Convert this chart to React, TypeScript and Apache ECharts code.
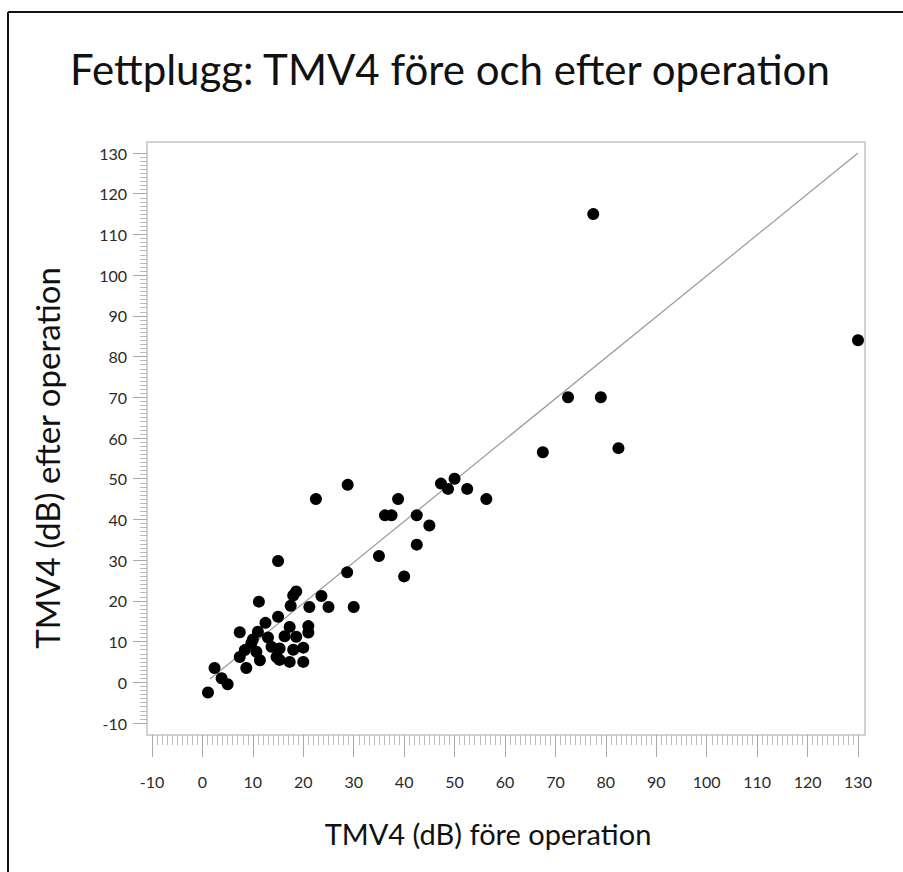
import React, { useEffect, useRef } from "react";
import * as echarts from "echarts";

const titleText = "Fettplugg: TMV4 före och efter operation";
const xAxisTitle = "TMV4 (dB) före operation";
const yAxisTitle = "TMV4 (dB) efter operation";

// before-operation values (x)
const beforeOp = [
  130, 77.5, 72.5, 79, 82.5, 67.5,
  56.3, 52.5, 50, 48.7, 47.3, 45, 42.5, 42.5, 40, 38.8, 37.5, 36.2, 35, 30,
  28.8, 28.7, 25, 23.6, 22.5, 21.2, 21, 21, 20, 20,
  18.6, 18, 17.5, 18.6, 18, 17.3, 17.3, 16.3, 15.3, 15.3,
  15, 15, 14.7, 13.7, 12.5, 11.2, 11, 11.4, 10.7, 9.7,
  8.4, 7.4, 7.4, 8.7, 2.4, 3.8, 5, 1.1, 13, 10,
];
// after-operation values (y)
const afterOp = [
  84, 115, 70, 70, 57.5, 56.5,
  45, 47.5, 50, 47.5, 48.8, 38.5, 41, 33.8, 26, 45, 41, 41, 31, 18.5,
  48.5, 27, 18.5, 21.2, 45, 18.5, 13.8, 12.2, 8.5, 5,
  22.3, 21.3, 18.8, 11.2, 8, 13.6, 5, 11.3, 8.3, 5.5,
  16.1, 29.8, 6.2, 8.7, 14.6, 19.8, 12.4, 5.4, 7.5, 9.6,
  7.9, 12.3, 6.2, 3.5, 3.5, 1, -0.5, -2.5, 11, 10.5,
];
// fitted line endpoints
const fitX = [1.5, 130];
const fitY = [0.8, 130];

const axisMin = -10;
const axisMax = 130;
const axisStep = 10;

export default function App() {
  const ref = useRef<HTMLDivElement>(null);
  useEffect(() => {
    if (!ref.current) return;
    const chart = echarts.init(ref.current, undefined, { renderer: "svg" });
    const font = "Lato";
    const points = beforeOp.map((x, i) => [x, afterOp[i]]);
    const fit = fitX.map((x, i) => [x, fitY[i]]);
    chart.setOption({
      animation: false,
      backgroundColor: "#fff",
      title: {
        text: titleText,
        left: 70,
        top: 48,
        padding: 0,
        textStyle: { fontFamily: font, fontSize: 42, fontWeight: "normal", color: "#111" },
      },
      grid: { left: 152, right: 45, top: 153, bottom: 149, containLabel: false },
      xAxis: {
        type: "value",
        min: axisMin,
        max: axisMax,
        interval: axisStep,
        offset: 12,
        axisLine: { show: false, onZero: false },
        axisTick: { show: true, length: 22, lineStyle: { color: "#aaa", width: 1 } },
        minorTick: { show: true, splitNumber: 10, length: 10, lineStyle: { color: "#bbb", width: 1 } },
        splitLine: { show: false },
        axisLabel: { margin: 38, fontFamily: font, fontSize: 16, color: "#2a2a2a" },
      },
      yAxis: {
        type: "value",
        min: axisMin,
        max: axisMax,
        interval: axisStep,
        offset: 5,
        axisLine: { show: false, onZero: false },
        axisTick: { show: true, length: 14, lineStyle: { color: "#aaa", width: 1 } },
        minorTick: { show: true, splitNumber: 10, length: 7, lineStyle: { color: "#bbb", width: 1 } },
        splitLine: { show: false },
        axisLabel: { margin: 20, fontFamily: font, fontSize: 16, color: "#2a2a2a" },
      },
      graphic: [
        {
          type: "rect",
          shape: { x: 147, y: 142, width: 718, height: 593 },
          style: { fill: "none", stroke: "#c4c4c4", lineWidth: 1.5 },
          silent: true,
        },
        {
          type: "line",
          shape: { x1: 8, y1: 12, x2: 903, y2: 12 },
          style: { stroke: "#111", lineWidth: 2 },
          silent: true,
        },
        {
          type: "line",
          shape: { x1: 8, y1: 12, x2: 8, y2: 872 },
          style: { stroke: "#111", lineWidth: 2 },
          silent: true,
        },
        {
          type: "text",
          x: 488,
          y: 833,
          style: {
            text: xAxisTitle,
            font: `29px ${font}`,
            fill: "#111",
            align: "center",
            verticalAlign: "middle",
          },
          silent: true,
        },
        {
          type: "text",
          x: 47,
          y: 458,
          rotation: Math.PI / 2,
          style: {
            text: yAxisTitle,
            font: `33px ${font}`,
            fill: "#111",
            align: "center",
            verticalAlign: "middle",
          },
          silent: true,
        },
      ],
      series: [
        {
          type: "line",
          data: fit,
          showSymbol: false,
          symbol: "none",
          lineStyle: { color: "#999", width: 1.2 },
          z: 1,
        },
        {
          type: "scatter",
          data: points,
          symbolSize: 12,
          itemStyle: { color: "#000", opacity: 1 },
          z: 2,
        },
      ],
    });
    return () => chart.dispose();
  }, []);
  return (
    <div
      ref={ref}
      style={{ position: "absolute", left: 0, top: 0, width: 903, height: 872 }}
    />
  );
}
